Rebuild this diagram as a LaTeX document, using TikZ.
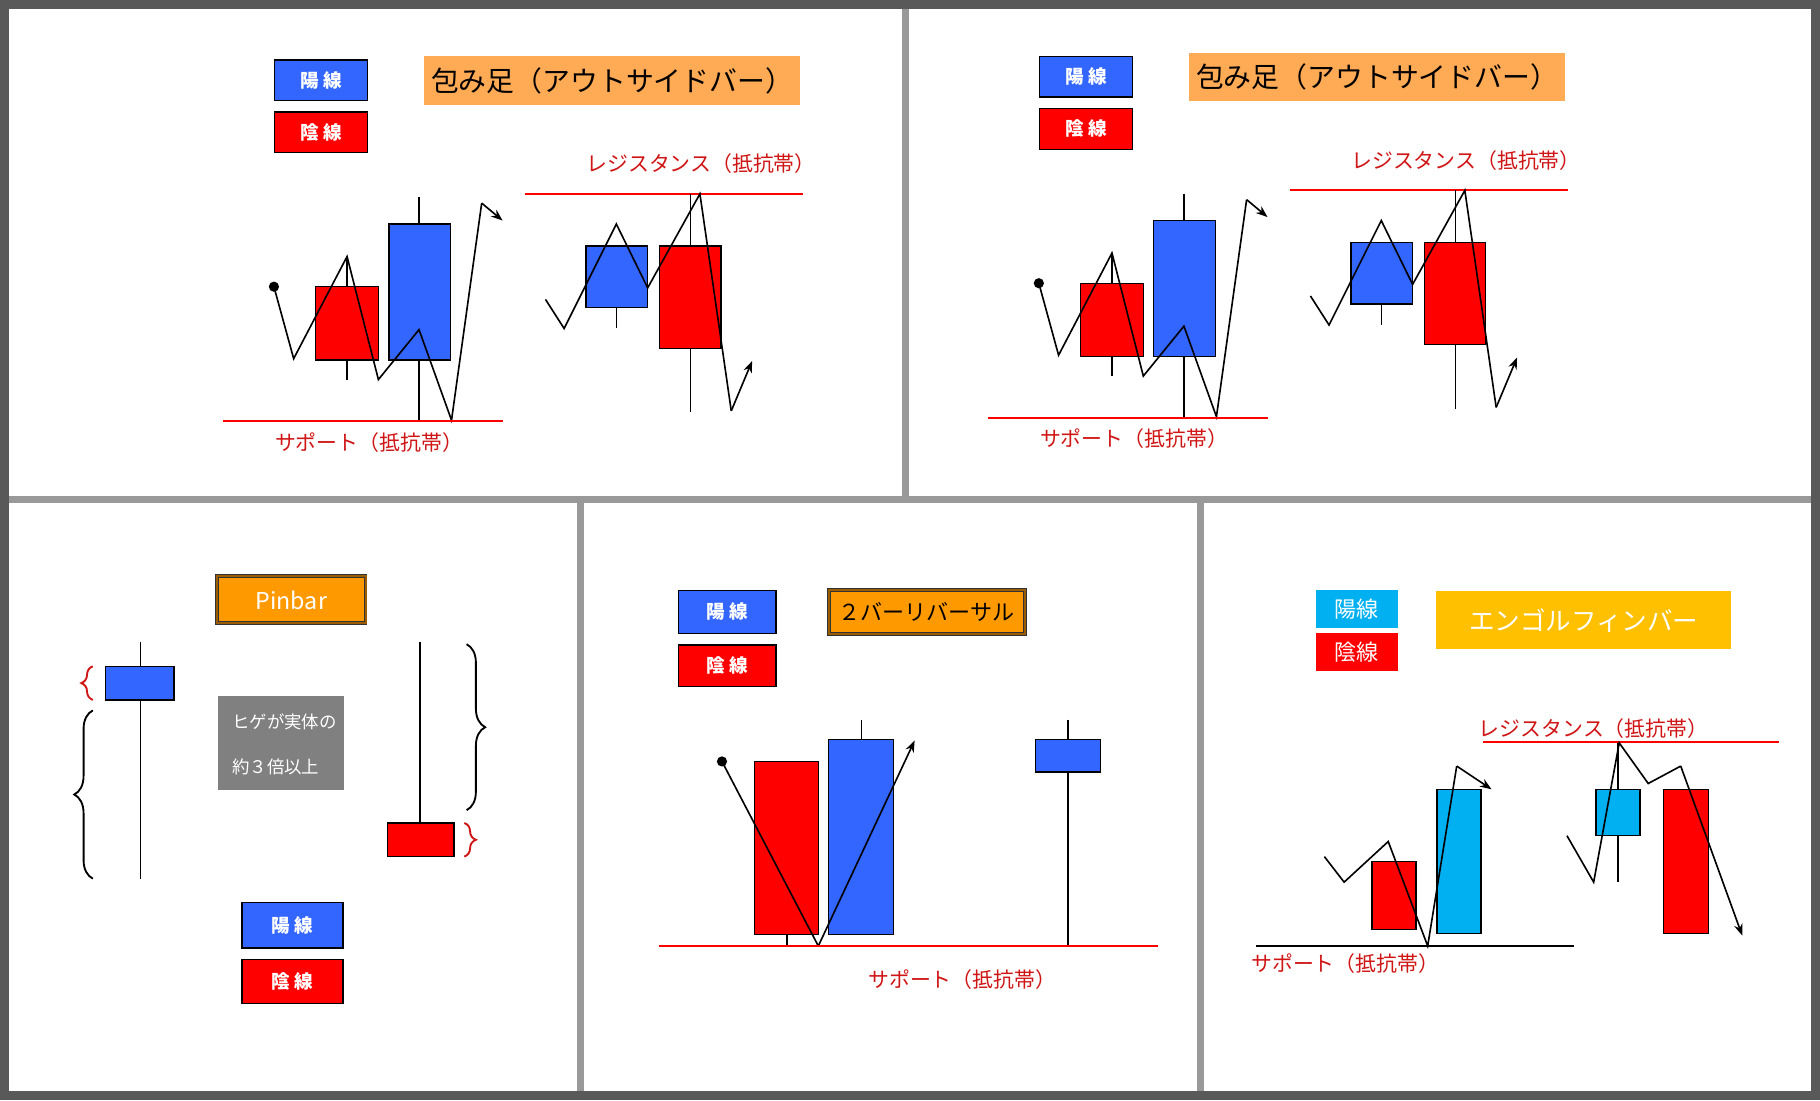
\documentclass[tikz,border=0pt]{standalone}
\usepackage{fontspec}
\setmainfont{Noto Sans CJK JP}
\newfontfamily\jp{Noto Sans CJK JP}
\usetikzlibrary{decorations.pathreplacing,arrows.meta}
\definecolor{cblue}{HTML}{3366FF}
\definecolor{cred}{HTML}{FF0000}
\definecolor{ccyan}{HTML}{00B0F0}
\definecolor{corange}{HTML}{FFAA55}
\definecolor{cor2}{HTML}{FF9900}
\definecolor{cgold}{HTML}{FFC000}
\definecolor{tred}{HTML}{D01515}
\begin{document}
\begin{tikzpicture}[x=0.5pt,y=-0.5pt,
 bb/.style={draw=black,fill=cblue,line width=0.6pt},
 rb/.style={draw=black,fill=cred,line width=0.6pt},
 cb/.style={draw=black,fill=ccyan,line width=0.6pt},
 wick/.style={line width=0.6pt},
 pl/.style={line width=0.7pt},
 arr/.style={line width=0.7pt,-{Stealth[length=5pt]}},
 lab/.style={font=\jp\bfseries\fontsize{8}{9}\selectfont,text=white},
 rtxt/.style={font=\jp\fontsize{9}{11}\selectfont,text=tred},
 rline/.style={draw=cred,line width=0.9pt},
 dbl/.style={draw=black!80,double=cor2!60!black,fill=cor2,line width=0.4pt,double distance=0.8pt},
 div/.style={draw=gray!80,line width=3pt}]
\useasboundingbox (0,0) rectangle (1568,948);
\fill[black!65] (0,0) rectangle (1568,948);
\fill[white] (8,8) rectangle (1560,940);
\draw[div] (780,8)--(780,430);
\draw[div] (8,430)--(1560,430);
\draw[div] (500,430)--(500,940);
\draw[div] (1034,430)--(1034,940);
% top panels
\foreach \sx/\sy/\n in {0/0/a,659/-3/b}{
\begin{scope}[shift={(\sx,\sy)}]
\node[bb,minimum width=40pt,minimum height=17.5pt,anchor=north west] (lb\n) at (236,51) {};
\node[lab] at (lb\n) {陽 線};
\node[rb,minimum width=40pt,minimum height=17.5pt,anchor=north west] (lr\n) at (236,96) {};
\node[lab] at (lr\n) {陰 線};
\node[fill=corange,minimum width=162pt,minimum height=21pt,anchor=north west] (t\n) at (365,48) {};
\node[font=\jp\fontsize{12}{14}\selectfont] at (t\n) {包み足（アウトサイドバー）};
\node[rtxt] (rs\n) at (604,141) {レジスタンス（抵抗帯）};
\draw[rline] (452,167)--(692,167);
\draw[wick] (299,221)--(299,327);
\draw[rb] (272,247) rectangle (326,310);
\draw[wick] (361,170)--(361,362);
\draw[bb] (335,193) rectangle (388,310);
\fill (236,247) circle (2.2pt);
\draw[pl] (236,247)--(253,309)--(299,221)--(326,327)--(361,284)--(389,362)--(415,175);
\draw[arr] (415,175)--(433,190);
\draw[rline] (192,363)--(433,363);
\node[rtxt] at (318,381) {サポート（抵抗帯）};
\draw[wick] (531,265)--(531,283);
\draw[bb] (505,212) rectangle (558,265);
\draw[wick] (595,167)--(595,355);
\draw[rb] (568,212) rectangle (621,300);
\draw[pl] (470,258)--(486,283)--(531,193)--(558,248)--(603,167)--(630,354);
\draw[arr] (630,354)--(648,311);
\end{scope}}
% pinbar
\draw[dbl] (187,496) rectangle (315,537);
\node[font=\jp\fontsize{10}{12}\selectfont,text=white] at (251,517) {Pinbar};
\draw[wick] (121,553)--(121,757);
\draw[bb] (91,574) rectangle (150,603);
\draw[draw=tred,line width=0.8pt,decorate,decoration={brace,amplitude=5pt}] (80,603)--(80,574);
\draw[line width=0.8pt,decorate,decoration={brace,amplitude=8pt}] (80,757)--(80,612);
\fill[gray] (188,600) rectangle (296,681);
\node[font=\jp\fontsize{7.5}{9}\selectfont,text=white,anchor=west] at (193,622) {ヒゲが実体の};
\node[font=\jp\fontsize{7.5}{9}\selectfont,text=white,anchor=west] at (193,661) {約３倍以上};
\draw[wick] (362,553)--(362,709);
\draw[rb] (334,709) rectangle (391,738);
\draw[line width=0.8pt,decorate,decoration={brace,amplitude=8pt}] (402,555)--(402,698);
\draw[draw=tred,line width=0.8pt,decorate,decoration={brace,amplitude=5pt}] (400,709)--(400,738);
\node[bb,minimum width=43.5pt,minimum height=19.5pt,anchor=north west] (pb) at (208,777) {};
\node[lab] at (pb) {陽 線};
\node[rb,minimum width=43.5pt,minimum height=19pt,anchor=north west] (pr) at (208,826) {};
\node[lab] at (pr) {陰 線};
% 2 bar reversal
\node[bb,minimum width=42pt,minimum height=18.5pt,anchor=north west] (mb) at (584,508) {};
\node[lab] at (mb) {陽 線};
\node[rb,minimum width=42pt,minimum height=18pt,anchor=north west] (mr) at (584,555) {};
\node[lab] at (mr) {陰 線};
\draw[dbl] (714,508) rectangle (883,546);
\node[font=\jp\fontsize{9.5}{11}\selectfont] at (798,527) {２バーリバーサル};
\draw[wick] (678,805)--(678,815);
\draw[rb] (650,656) rectangle (705,805);
\draw[wick] (742,620)--(742,637);
\draw[bb] (714,637) rectangle (770,805);
\fill (622,656) circle (2.2pt);
\draw[pl] (622,656)--(705,815);
\draw[arr] (705,815)--(788,638);
\draw[wick] (920,620)--(920,815);
\draw[bb] (892,637) rectangle (948,665);
\draw[rline] (568,815)--(998,815);
\node[rtxt] at (829,844) {サポート（抵抗帯）};
% engulfing
\node[fill=ccyan,minimum width=35.5pt,minimum height=16.5pt,anchor=north west] (eb) at (1133,508) {};
\node[font=\jp\fontsize{9.5}{11}\selectfont,text=white] at (eb) {陽線};
\node[fill=cred,minimum width=35.5pt,minimum height=16.5pt,anchor=north west] (er) at (1133,545) {};
\node[font=\jp\fontsize{9.5}{11}\selectfont,text=white] at (er) {陰線};
\node[fill=cgold,minimum width=127pt,minimum height=25pt,anchor=north west] (et) at (1237,509) {};
\node[font=\jp\fontsize{11}{12}\selectfont,text=white] at (et) {エンゴルフィンバー};
\node[rtxt] at (1373,628) {レジスタンス（抵抗帯）};
\draw[rline] (1278,639)--(1533,639);
\draw[rb] (1182,742) rectangle (1220,801);
\draw[cb] (1238,680) rectangle (1276,804);
\draw[pl] (1141,738)--(1158,760)--(1196,725)--(1230,815)--(1255,660);
\draw[arr] (1255,660)--(1285,680);
\draw[line width=0.8pt] (1082,815)--(1356,815);
\node[rtxt] at (1159,830) {サポート（抵抗帯）};
\draw[wick] (1394,640)--(1394,760);
\draw[cb] (1375,680) rectangle (1413,720);
\draw[rb] (1433,680) rectangle (1472,804);
\draw[pl] (1350,720)--(1373,760)--(1395,640)--(1420,675)--(1448,660);
\draw[arr] (1448,660)--(1501,806);
\end{tikzpicture}
\end{document}
